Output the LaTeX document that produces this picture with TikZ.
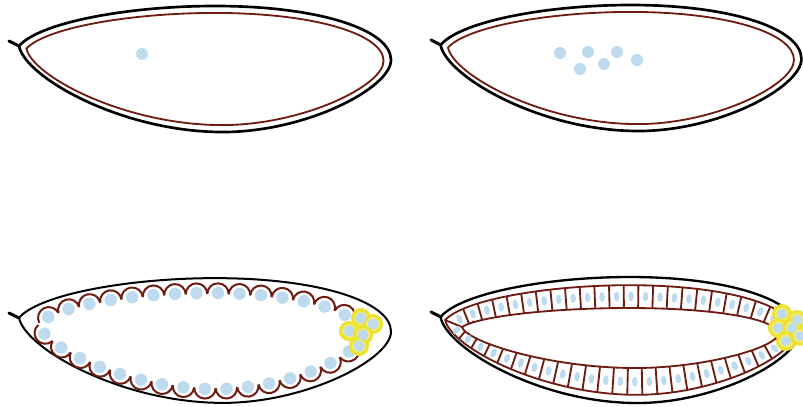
\documentclass[tikz,border=0pt]{standalone}
\usetikzlibrary{decorations.markings}

\definecolor{membran}{RGB}{110,28,18}
\definecolor{inti}{RGB}{190,218,238}
\definecolor{kutub}{RGB}{236,226,50}
\definecolor{kutubmuda}{RGB}{244,236,110}

% Lintasan bentuk telur: pusat x, pusat y, skala x, skala y
\newcommand{\telur}[4]{%
  ({#1-186*#3},{#2-23*#4})
  .. controls ({#1-165*#3},{#2-47*#4}) and ({#1-75*#3},{#2-63*#4}) .. ({#1+10*#3},{#2-63*#4})
  .. controls ({#1+115*#3},{#2-63*#4}) and ({#1+186*#3},{#2-39*#4}) .. ({#1+186*#3},{#2-9*#4})
  .. controls ({#1+186*#3},{#2+19*#4}) and ({#1+100*#3},{#2+64*#4}) .. ({#1+15*#3},{#2+63*#4})
  .. controls ({#1-85*#3},{#2+62*#4}) and ({#1-180*#3},{#2+8*#4}) .. cycle}
% separuh atas dan separuh bawah, keduanya dari ujung kiri ke ujung kanan
\newcommand{\telurAtas}[4]{%
  ({#1-186*#3},{#2-23*#4})
  .. controls ({#1-165*#3},{#2-47*#4}) and ({#1-75*#3},{#2-63*#4}) .. ({#1+10*#3},{#2-63*#4})
  .. controls ({#1+115*#3},{#2-63*#4}) and ({#1+186*#3},{#2-39*#4}) .. ({#1+186*#3},{#2-9*#4})}
\newcommand{\telurBawah}[4]{%
  ({#1-186*#3},{#2-23*#4})
  .. controls ({#1-180*#3},{#2+8*#4}) and ({#1-85*#3},{#2+62*#4}) .. ({#1+15*#3},{#2+63*#4})
  .. controls ({#1+100*#3},{#2+64*#4}) and ({#1+186*#3},{#2+19*#4}) .. ({#1+186*#3},{#2-9*#4})}

\begin{document}
\begin{tikzpicture}[x=0.3mm, y=-0.3mm,
    kulit/.style={black, line width=0.8mm, line join=round},
    selaput/.style={membran, line width=0.55mm},
    mikropil/.style={black, line width=0.9mm, line cap=round},
    sel kutub/.style={fill=kutubmuda, draw=kutub, line width=0.9mm},
    % inti berlekuk: arah luar = -y di atas, +y di bawah
    lekuk atas/.style={decorate, decoration={markings,
      mark=between positions 3.2mm and 1 step 6.45mm with {
        \draw[membran, line width=0.6mm] (-10.75,0) arc[start angle=180, end angle=360, radius=10.75];
        \fill[inti] (0,-1) circle (6.2);}}},
    lekuk bawah/.style={decorate, decoration={markings,
      mark=between positions 3.2mm and 1 step 6.45mm with {
        \draw[membran, line width=0.6mm] (-10.75,0) arc[start angle=180, end angle=0, radius=10.75];
        \fill[inti] (0,1) circle (6.2);}}},
    % dinding sel dengan inti lonjong
    sel/.style={decorate, decoration={markings,
      mark=between positions 4.35mm and 1 step 4.35mm with {
        \draw[membran, line width=0.55mm] (0,-18) -- (0,18);
        \fill[inti] (-7.25,0) ellipse [x radius=2.8, y radius=4.8];}}}]

  \useasboundingbox (0,0) rectangle (803,406);

  % --- Telur 1: satu inti ---
  \draw[mikropil] (19,46) -- (9,41);
  \draw[kulit] \telur{205}{69}{1}{1};
  \draw[selaput] \telur{205}{69}{0.96}{0.89};
  \fill[inti] (142,54) circle (6);

  % --- Telur 2: inti membelah ---
  \draw[mikropil] (441,45) -- (431,40);
  \draw[kulit] \telur{621}{68}{0.97}{1};
  \draw[selaput] \telur{621}{68}{0.93}{0.89};
  \foreach \p in {(560,53),(588,52),(617,52),(637,60),(580,69),(604,64)}
    \fill[inti] \p circle (6);

  % --- Telur 3: blastoderm sinsitial ---
  \draw[mikropil] (19,318) -- (9,313);
  \draw[kulit, line width=0.6mm] \telur{205}{340.5}{1}{0.99};
  \path[lekuk atas] \telurAtas{200}{341}{0.86}{0.746};
  \path[lekuk bawah] \telurBawah{200}{341}{0.86}{0.746};
  % sel kutub
  \foreach \p in {(361,318),(373,324),(349,331),(363,335),(359,346)}
    \draw[sel kutub] \p circle (8.5);
  \foreach \p in {(361,318),(373,324),(349,331),(363,335),(359,346)}
    \fill[inti] \p circle (5.5);

  % --- Telur 4: blastoderm seluler ---
  \draw[mikropil] (441,317) -- (431,312);
  \draw[kulit, line width=0.7mm] \telur{620}{340}{0.965}{1};
  \draw[selaput] \telur{620}{340}{0.94}{0.87};
  \draw[selaput] \telur{620}{338}{0.85}{0.476};
  \begin{scope}[even odd rule]
    \clip \telur{620}{340}{0.94}{0.87} \telur{620}{338}{0.85}{0.476};
    \draw[membran, line width=0.55mm] (440,318) -- (467,329);
    \path[sel] \telurAtas{620}{339}{0.895}{0.675};
    \path[sel] \telurBawah{620}{339}{0.895}{0.675};
  \end{scope}
  % sel kutub
  \foreach \p in {(782,314),(797,320),(778,328),(792,328),(786,341),(800,336)}
    \draw[sel kutub] \p circle (8.5);
  \foreach \p in {(782,314),(797,320),(778,328),(792,328),(786,341),(800,336)}
    \fill[inti] \p circle (5);

\end{tikzpicture}
\end{document}
